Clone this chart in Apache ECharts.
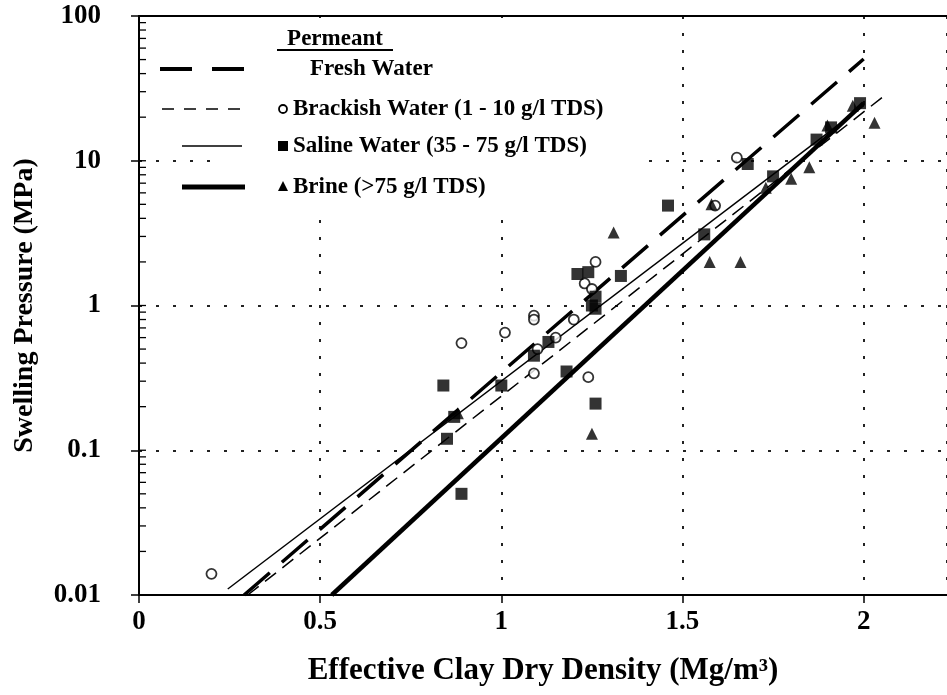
<!DOCTYPE html>
<html>
<head>
<meta charset="utf-8">
<script src="https://cdn.jsdelivr.net/npm/echarts@6/dist/echarts.min.js"></script>
<style>
  html, body { margin: 0; padding: 0; background: #fff; }
  #chart { width: 947px; height: 695px; }
</style>
</head>
<body>
<div id="chart"></div>
<script>
// data: [density, swelling pressure]
const brackishPts = [
  [0.20, 0.014], [0.89, 0.55], [1.01, 0.65], [1.09, 0.85], [1.09, 0.80],
  [1.10, 0.50], [1.09, 0.34], [1.15, 0.60], [1.20, 0.80], [1.24, 0.32],
  [1.26, 2.0], [1.23, 1.42], [1.25, 1.30], [1.65, 10.5], [1.59, 4.9]
];
const salinePts = [
  [0.84, 0.28], [0.85, 0.12], [0.87, 0.17], [0.89, 0.05], [1.00, 0.28],
  [1.26, 0.21], [1.18, 0.35], [1.09, 0.45], [1.13, 0.56], [1.21, 1.65],
  [1.24, 1.70], [1.26, 1.15], [1.26, 0.95], [1.25, 1.00], [1.33, 1.60],
  [1.46, 4.9], [1.68, 9.5], [1.56, 3.1], [1.75, 7.8], [1.91, 17],
  [1.87, 14], [1.99, 25]
];
const brinePts = [
  [0.88, 0.18], [1.31, 3.2], [1.25, 0.13], [1.575, 2.0], [1.66, 2.0],
  [1.80, 7.5], [1.85, 9.0], [2.03, 18.3], [1.58, 5.0], [1.73, 6.5],
  [1.90, 17.5], [1.97, 24]
];

// fitted trend lines (end points)
const freshLine = [[0.29, 0.01], [2.0, 50.5]];
const brackishLine = [[0.30, 0.01], [2.06, 28.5]];
const salineLine = [[0.245, 0.011], [2.0, 24]];
const brineLine = [[0.532, 0.01], [2.0, 25]];

const xTicks = [0, 0.5, 1, 1.5, 2];
const yTickLabels = ['0.01', '0.1', '1', '10', '100'];
// log minor ticks on the y axis (drawn inside)
const yMinorTicks = [];
[0.01, 0.1, 1, 10].forEach(function (d) {
  for (let k = 1; k <= 9; k++) yMinorTicks.push(+(d * k).toPrecision(3));
});
yMinorTicks.push(100);

const FONT = '"Liberation Serif", "Times New Roman", serif';
const chart = echarts.init(document.getElementById('chart'));

const dotted = { color: '#222', width: 2, type: [3, 14] };

function lineSeries(name, data, width, dash) {
  return {
    name: name, type: 'line', data: data, symbol: 'none', silent: true,
    xAxisIndex: 0, z: 3,
    lineStyle: { color: '#000', width: width, type: dash }
  };
}

function legendRow(y, x1, x2, width, dash, marker, text, textX) {
  const items = [{
    type: 'line', silent: true, z: 11,
    shape: { x1: x1, y1: y, x2: x2, y2: y },
    style: { stroke: '#000', lineWidth: width, lineDash: dash }
  }];
  if (marker) { marker.z = 11; items.push(marker); }
  items.push({
    type: 'text', x: textX, y: y, silent: true, z: 11,
    style: { text: text, font: 'bold 23px ' + FONT, fill: '#000', textVerticalAlign: 'middle' }
  });
  return items;
}

const legendGraphics = [].concat(
  [{
    // white legend box hides the grid behind the key
    type: 'rect', silent: true, z: 10,
    shape: { x: 220, y: 18, width: 425, height: 194 },
    style: { fill: '#fff' }
  }, {
    type: 'text', x: 335, y: 39, silent: true, z: 11,
    style: { text: 'Permeant', font: 'bold 23px ' + FONT, fill: '#000',
      textAlign: 'center', textVerticalAlign: 'middle' }
  }, {
    type: 'line', silent: true, z: 11,
    shape: { x1: 277, y1: 50, x2: 393, y2: 50 },
    style: { stroke: '#000', lineWidth: 2 }
  }],
  legendRow(69, 160, 248, 4, [32, 20], null, 'Fresh Water', 310),
  legendRow(109, 162, 242, 1.5, [12, 10], {
    type: 'circle', silent: true, shape: { cx: 283, cy: 109, r: 4 },
    style: { fill: '#fff', stroke: '#000', lineWidth: 1.8 }
  }, 'Brackish Water (1 - 10 g/l TDS)', 293),
  legendRow(146, 182, 242, 1.5, null, {
    type: 'rect', silent: true, shape: { x: 278, y: 141, width: 10, height: 10 },
    style: { fill: '#000' }
  }, 'Saline Water (35 - 75 g/l TDS)', 293),
  legendRow(187, 182, 245, 5, null, {
    type: 'polygon', silent: true, shape: { points: [[283, 181], [288, 191], [278, 191]] },
    style: { fill: '#000' }
  }, 'Brine (>75 g/l TDS)', 293)
);

const option = {
  backgroundColor: '#fff',
  animation: false,
  grid: { left: 139, right: 0, top: 16, bottom: 100 },
  xAxis: [{
    type: 'value', min: 0, max: 2.23, interval: 0.5,
    name: 'Effective Clay Dry Density (Mg/m³)',
    nameLocation: 'middle', nameGap: 60,
    nameTextStyle: { fontFamily: FONT, fontWeight: 'bold', fontSize: 31, color: '#000' },
    axisLine: { show: true, onZero: false, lineStyle: { color: '#000', width: 2 } },
    axisTick: { show: true, inside: false, length: 8, lineStyle: { color: '#000', width: 1.5 } },
    axisLabel: {
      margin: 14, fontFamily: FONT, fontWeight: 'bold', fontSize: 27, color: '#000',
      showMaxLabel: false,
      formatter: function (v) { return xTicks.indexOf(v) >= 0 ? String(v) : ''; }
    },
    splitLine: { show: true, lineStyle: dotted }
  }, {
    type: 'value', min: 0, max: 2.23, position: 'top',
    axisLine: { show: true, onZero: false, lineStyle: { color: '#000', width: 2 } },
    axisTick: { show: false }, axisLabel: { show: false }, splitLine: { show: false }
  }],
  yAxis: {
    type: 'log', logBase: 10, min: 0.01, max: 100,
    name: 'Swelling Pressure (MPa)',
    nameLocation: 'middle', nameGap: 100, nameRotate: 90,
    nameTextStyle: { fontFamily: FONT, fontWeight: 'bold', fontSize: 28, color: '#000' },
    axisLine: { show: true, onZero: false, lineStyle: { color: '#000', width: 2 } },
    axisTick: { show: true, inside: false, length: 8, lineStyle: { color: '#000', width: 1.5 } },
    minorTick: { show: false },
    axisLabel: {
      margin: 38, fontFamily: FONT, fontWeight: 'bold', fontSize: 27, color: '#000',
      formatter: function (v) {
        const s = String(+v.toPrecision(2));
        return yTickLabels.indexOf(s) >= 0 ? s : '';
      }
    },
    splitLine: { show: true, lineStyle: dotted }
  },
  graphic: legendGraphics,
  series: [
    lineSeries('Fresh Water', freshLine, 3.5, [34, 16]),
    lineSeries('Brackish Water', brackishLine, 1.5, [14, 8]),
    lineSeries('Saline Water', salineLine, 1.5, 'solid'),
    lineSeries('Brine', brineLine, 4.5, 'solid'),
    {
      name: 'Brackish pts', type: 'scatter', data: brackishPts, z: 5,
      symbol: 'circle', symbolSize: 10,
      itemStyle: { color: '#fff', borderColor: '#000', borderWidth: 1.8 }
    },
    {
      name: 'Saline pts', type: 'scatter', data: salinePts, z: 5,
      symbol: 'rect', symbolSize: 12, itemStyle: { color: '#000' }
    },
    {
      name: 'Brine pts', type: 'scatter', data: brinePts, z: 5,
      symbol: 'triangle', symbolSize: 12, itemStyle: { color: '#000' }
    },
    {
      name: 'minor ticks', type: 'custom', silent: true, z: 4,
      data: yMinorTicks.map(function (v) { return [0, v]; }),
      renderItem: function (params, api) {
        const p = api.coord([api.value(0), api.value(1)]);
        return {
          type: 'line',
          shape: { x1: p[0], y1: p[1], x2: p[0] + 7, y2: p[1] },
          style: { stroke: '#000', lineWidth: 1.3 }
        };
      }
    }
  ]
};

chart.setOption(option);
</script>
</body>
</html>
